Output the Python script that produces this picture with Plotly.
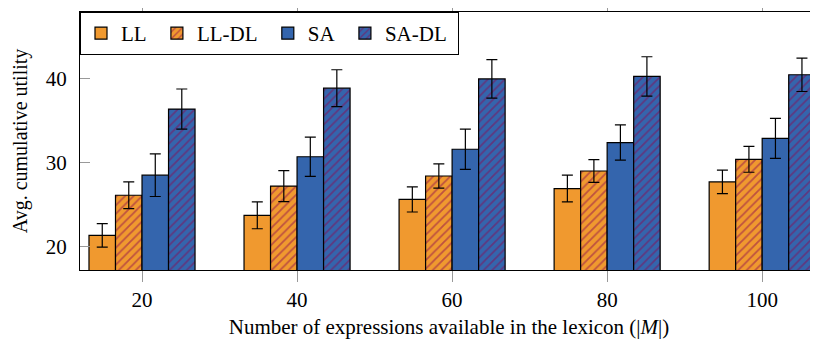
import plotly.graph_objects as go

sizes = [20, 40, 60, 80, 100]
series_names = ["LL", "LL-DL", "SA", "SA-DL"]

ll = [21.3, 23.7, 25.6, 26.9, 27.7]
ll_err = [1.4, 1.6, 1.5, 1.6, 1.4]
lldl = [26.1, 27.2, 28.4, 29.0, 30.4]
lldl_err = [1.6, 1.85, 1.45, 1.35, 1.55]
sa = [28.5, 30.7, 31.6, 32.4, 32.9]
sa_err = [2.55, 2.35, 2.4, 2.1, 2.4]
sadl = [36.4, 38.9, 40.0, 40.3, 40.5]
sadl_err = [2.4, 2.2, 2.3, 2.35, 2.0]

y_ticks = [20, 30, 40]
x_ticks = [20, 40, 60, 80, 100]

ORANGE = "#F0992F"
BLUE = "#3465AD"
HATCH = "#8B0A50"
FONT = "Liberation Serif, Times New Roman, serif"
NB = "\u00a0"

values = [ll, lldl, sa, sadl]
errors = [ll_err, lldl_err, sa_err, sadl_err]
colors = [ORANGE, ORANGE, BLUE, BLUE]
hatched = [False, True, False, True]

fig = go.Figure()
for name, v, e, c, h in zip(series_names, values, errors, colors, hatched):
    pattern = dict(shape="/", fgcolor=HATCH, bgcolor=c, size=6, solidity=0.3) if h else dict(shape="")
    fig.add_trace(go.Bar(
        name=name + NB, x=sizes, y=v,
        marker=dict(color=c, line=dict(color="black", width=1.2), pattern=pattern),
        error_y=dict(type="data", array=e, visible=True, color="black", thickness=1.2, width=5.5),
    ))

# page body has an 8px margin: the figure is sized to fit the 818x340 window
fig.update_layout(
    width=810, height=332,
    margin=dict(l=72, r=0, t=4, b=70),
    paper_bgcolor="white", plot_bgcolor="white",
    font=dict(family=FONT, size=21, color="black"),
    barmode="group", bargap=0.316, bargroupgap=0,
    showlegend=True,
    legend=dict(orientation="h", x=0, y=1, xanchor="left", yanchor="top",
                bgcolor="white", bordercolor="black", borderwidth=1,
                font=dict(family=FONT, size=21), itemwidth=30),
)
fig.update_xaxes(
    range=[12, 107.2], tickvals=x_ticks, ticktext=[str(t) for t in x_ticks],
    ticks="outside", ticklen=11, tickcolor="#999999", tickwidth=1,
    showline=True, linecolor="black", linewidth=1, mirror="ticks",
    showgrid=False, zeroline=False, automargin=False,
    tickfont=dict(family=FONT, size=21),
    title=dict(text="Number of expressions available in the lexicon (|<i>M</i>|)",
               font=dict(family=FONT, size=21), standoff=8),
)
fig.update_yaxes(
    range=[17.17, 48.0], tickvals=y_ticks, ticktext=[str(t) for t in y_ticks],
    ticks="inside", ticklen=10, tickcolor="#999999", tickwidth=1,
    showline=True, linecolor="black", linewidth=1,
    showgrid=False, zeroline=False, automargin=False,
    tickfont=dict(family=FONT, size=21), ticklabelstandoff=8,
    title=dict(text="Avg. cumulative utility", font=dict(family=FONT, size=20), standoff=12),
)

fig.write_html("out.html")
